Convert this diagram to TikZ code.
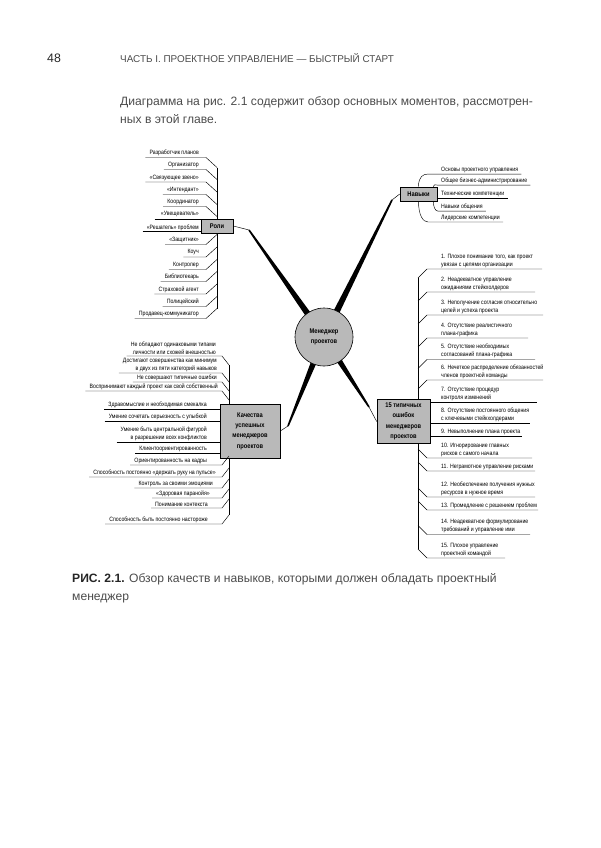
\documentclass[tikz,border=0pt]{standalone}
\usepackage{fontspec}
\setmainfont{Liberation Sans}
\newfontfamily\narrowfont[FakeStretch=0.84]{Liberation Sans}
\usepackage{xcolor}
\usetikzlibrary{calc, shadows}
\definecolor{pagegray}{RGB}{75,75,75}
\definecolor{topicgray}{RGB}{185,185,185}
\newcommand\lstfont{\narrowfont\fontsize{6.2}{8.2}\selectfont}
\newcommand\topicfont{\narrowfont\bfseries\fontsize{6.8}{10.4}\selectfont}
% konus vetki: tolstyj konec #1, tonkij #2
\newcommand\taper[2]{\fill ($(#1)!3.6pt!90:(#2)$) -- ($(#2)!0.8pt!-90:(#1)$) -- ($(#2)!0.8pt!90:(#1)$) -- ($(#1)!3.6pt!-90:(#2)$) -- cycle;}
\tikzset{
  item/.style={font=\lstfont, inner sep=0pt},
  topic/.style={draw, line width=0.6pt, fill=topicgray, font=\topicfont, align=center, inner sep=1pt,
    drop shadow={shadow xshift=0.9pt, shadow yshift=-0.9pt, opacity=1, fill=black!75}},
}

\begin{document}
\begin{tikzpicture}[x=1pt, y=-1pt, line width=0.45pt]
    \useasboundingbox (0,0) rectangle (600,848);

    % Kolontitul i tekst
    \node[anchor=west, inner sep=0pt, font=\fontsize{12.3}{14}\selectfont, text=black!85] (pnum) at (47,58) {48};
    \node[anchor=west, inner sep=0pt, font=\fontsize{9.9}{11}\selectfont, text=pagegray] (head) at (120,58) {ЧАСТЬ I. ПРОЕКТНОЕ УПРАВЛЕНИЕ — БЫСТРЫЙ СТАРТ};
    \node[anchor=north west, inner sep=0pt, align=left, font=\fontsize{12.1}{18}\selectfont, text=pagegray] (intro) at (120,96) {Диаграмма на рис. 2.1 содержит обзор основных моментов, рассмотрен-\\ных в этой главе.};
    \node[anchor=north west, inner sep=0pt, align=left, font=\fontsize{12.1}{18}\selectfont, text=pagegray] (caption) at (72,573) {{\color{black!85}\bfseries РИС. 2.1.} Обзор качеств и навыков, которыми должен обладать проектный\\менеджер};

    % Centr i vetki
    \coordinate (c) at (324,337);
    \coordinate (rolesEnd) at (249,230);
    \coordinate (skillsEnd) at (392,200);
    \coordinate (qualEnd) at (288,426);
    \coordinate (errEnd) at (369,407);
    \taper{c}{rolesEnd}
    \taper{c}{skillsEnd}
    \taper{c}{qualEnd}
    \taper{c}{errEnd}
    \node[circle, draw, line width=0.6pt, fill=topicgray, minimum size=58pt, font=\topicfont, align=center] (pm) at (c) {Менеджер\\проектов};

    % Temy
    \node[topic, minimum width=32pt, minimum height=14pt] (roli) at (217,226) {Роли};
    \node[topic, minimum width=37pt, minimum height=14pt] (navyki) at (418.5,194) {Навыки};
    \node[topic, minimum width=60pt, minimum height=54pt] (kach) at (250,431) {Качества\\успешных\\менеджеров\\проектов};
    \node[topic, minimum width=53pt, minimum height=44pt] (osh) at (403.5,421.5) {15 типичных\\ошибок\\менеджеров\\проектов};
    \draw (roli.east) -- (rolesEnd);
    \draw (navyki.west) -- (skillsEnd);
    \draw (kach.east) -- (qualEnd);
    \draw (osh.west) -- (errEnd);

    % Roli
    \foreach \txt/\y [count=\i] in {Разработчик планов/153, Организатор/165, «Связующее звено»/177.5, «Интендант»/190, Координатор/202} {
        \node[item, anchor=east] (ra\i) at (199,\y) {\txt};
        \draw ($(ra\i.west)+(-4,4.5)$) -- (206,\y+4.5) -- (217,\y+14.5);
    }
    \draw (217,167.5) -- (roli.north);
    \node[item, anchor=east] (ra6) at (199,214) {«Увещеватель»};
    \draw ($(ra6.west)+(-6,5)$) coordinate (u6) -- (u6 -| roli.west);
    \node[item, anchor=east] (ra7) at (199,227.5) {«Решатель» проблем};
    \draw ($(ra7.west)+(-4,4)$) coordinate (u7) -- (u7 -| roli.west);
    \foreach \txt/\y [count=\i] in {«Защитник»/240, Коуч/252.5, Контролер/265, Библиотекарь/277, Страховой агент/289.5, Полицейский/302, Продавец-коммуникатор/314} {
        \node[item, anchor=east] (rb\i) at (199,\y) {\txt};
        \draw ($(rb\i.west)+(-4,4.5)$) -- (206,\y+4.5) -- (217,\y-5.5);
    }
    \draw (roli.south) -- (217,308.5);

    % Navyki
    \foreach \txt/\y [count=\i] in {Основы проектного управления/170, Общее бизнес-администрирование/181, Технические компетенции/194, Навыки общения/207, Лидерские компетенции/218}
        \node[item, anchor=west] (s\i) at (441,\y) {\txt};
    \draw (navyki.north) .. controls +(0,-10) and +(-5,0) .. ($(s1.south west)+(-13,1)$) -- ($(s1.south east)+(3,1)$);
    \draw ($(navyki.north east)+(-4,0)$) .. controls +(0,-3) and +(-3,0) .. ($(s2.south west)+(-3,1)$) -- ($(s2.south east)+(3,1)$);
    \draw ($(s3.south west -| navyki.east)+(0,1)$) -- ($(s3.south east)+(3,1)$);
    \draw ($(navyki.south east)+(-4,0)$) .. controls +(0,5) and +(-3,0) .. ($(s4.south west)+(-3,1)$) -- ($(s4.south east)+(3,1)$);
    \draw (navyki.south) .. controls +(0,14) and +(-5,0) .. ($(s5.south west)+(-13,1)$) -- ($(s5.south east)+(3,1)$);

    % 15 oshibok
    \foreach \txt/\uy/\rx [count=\i] in {{1. Плохое понимание того, как проект\\увязан с целями организации}/269/542, {2. Неадекватное управление\\ожиданиями стейкхолдеров}/292/535, {3. Неполучение согласия относительно\\целей и успеха проекта}/315/543, {4. Отсутствие реалистичного\\плана-графика}/338/528, {5. Отсутствие необходимых\\согласований плана-графика}/359.5/535, {6. Нечеткое распределение обязанностей\\членов проектной команды}/380/543} {
        \node[item, anchor=south west, align=left] (e\i) at (441,\uy-1) {\txt};
        \draw (418,\uy+9) -- ($(e\i.south west)+(-14,1)$) -- (\rx,\uy);
    }
    \draw (418,278) -- ($(osh.north)+(14.5,0)$);
    \foreach \txt/\uy/\rx [count=\i from 7] in {{7. Отсутствие процедур\\контроля изменений}/402/537, {8. Отсутствие постоянного общения\\с ключевыми стейкхолдерами}/423/530, 9. Невыполнение плана проекта/436/522} {
        \node[item, anchor=south west, align=left] (e\i) at (441,\uy-1) {\txt};
        \draw ($(e\i.south west -| osh.east)+(0,1)$) -- (\rx,\uy);
    }
    \foreach \txt/\uy/\rx [count=\i from 10] in {{10. Игнорирование главных\\рисков с самого начала}/458/532, 11. Неграмотное управление рисками/471/535, {12. Необеспечение получения нужных\\ресурсов в нужное время}/497/535, 13. Промедление с решением проблем/510/538, {14. Неадекватное формулирование\\требований и управление ими}/534.5/530, {15. Плохое управление\\проектной командой}/558/505} {
        \node[item, anchor=south west, align=left] (e\i) at (441,\uy-1) {\txt};
        \draw (418,\uy-9) -- ($(e\i.south west)+(-14,1)$) -- (\rx,\uy);
    }
    \draw ($(osh.south)+(14.5,0)$) -- (418,549);

    % Kachestva
    \foreach \txt/\uy/\xr [count=\i] in {{Не обладают одинаковыми типами\\личности или схожей внешностью}/356/216, {Достигают совершенства как минимум\\в двух из пяти категорий навыков}/373/217, Не совершают типичные ошибки/382/217, Воспринимают каждый проект как свой собственный/391/218} {
        \node[item, anchor=south east, align=right] (qa\i) at (\xr,\uy-1) {\txt};
        \draw ($(qa\i.south west)+(-4,1)$) -- (222,\uy) -- (229,\uy+9);
    }
    \draw (229,365) -- ($(kach.north)+(-21,0)$);
    \foreach \txt/\uy [count=\i from 5] in {Здравомыслие и необходимая смекалка/409.5, Умение сочетать серьезность с улыбкой/421, {Умение быть центральной фигурой\\в разрешении всех конфликтов}/442, Клиентоориентированность/453} {
        \node[item, anchor=south east, align=right] (qb\i) at (207,\uy-1) {\txt};
        \draw ($(qb\i.south west)+(-4,1)$) -- ($(qb\i.south west -| kach.west)+(0,1)$);
    }
    \foreach \txt/\uy/\xr [count=\i from 9] in {Ориентированность на кадры/465/207, Способность постоянно «держать руку на пульсе»/477/216, Контроль за своими эмоциями/488/213, «Здоровая паранойя»/498/210, Понимание контекста/508/208, Способность быть постоянно настороже/524/208} {
        \node[item, anchor=south east, align=right] (qc\i) at (\xr,\uy-1) {\txt};
        \draw ($(qc\i.south west)+(-4,1)$) -- (222,\uy) -- (229,\uy-9);
    }
    \draw ($(kach.south)+(-21,0)$) -- (229,515);
\end{tikzpicture}
\end{document}
